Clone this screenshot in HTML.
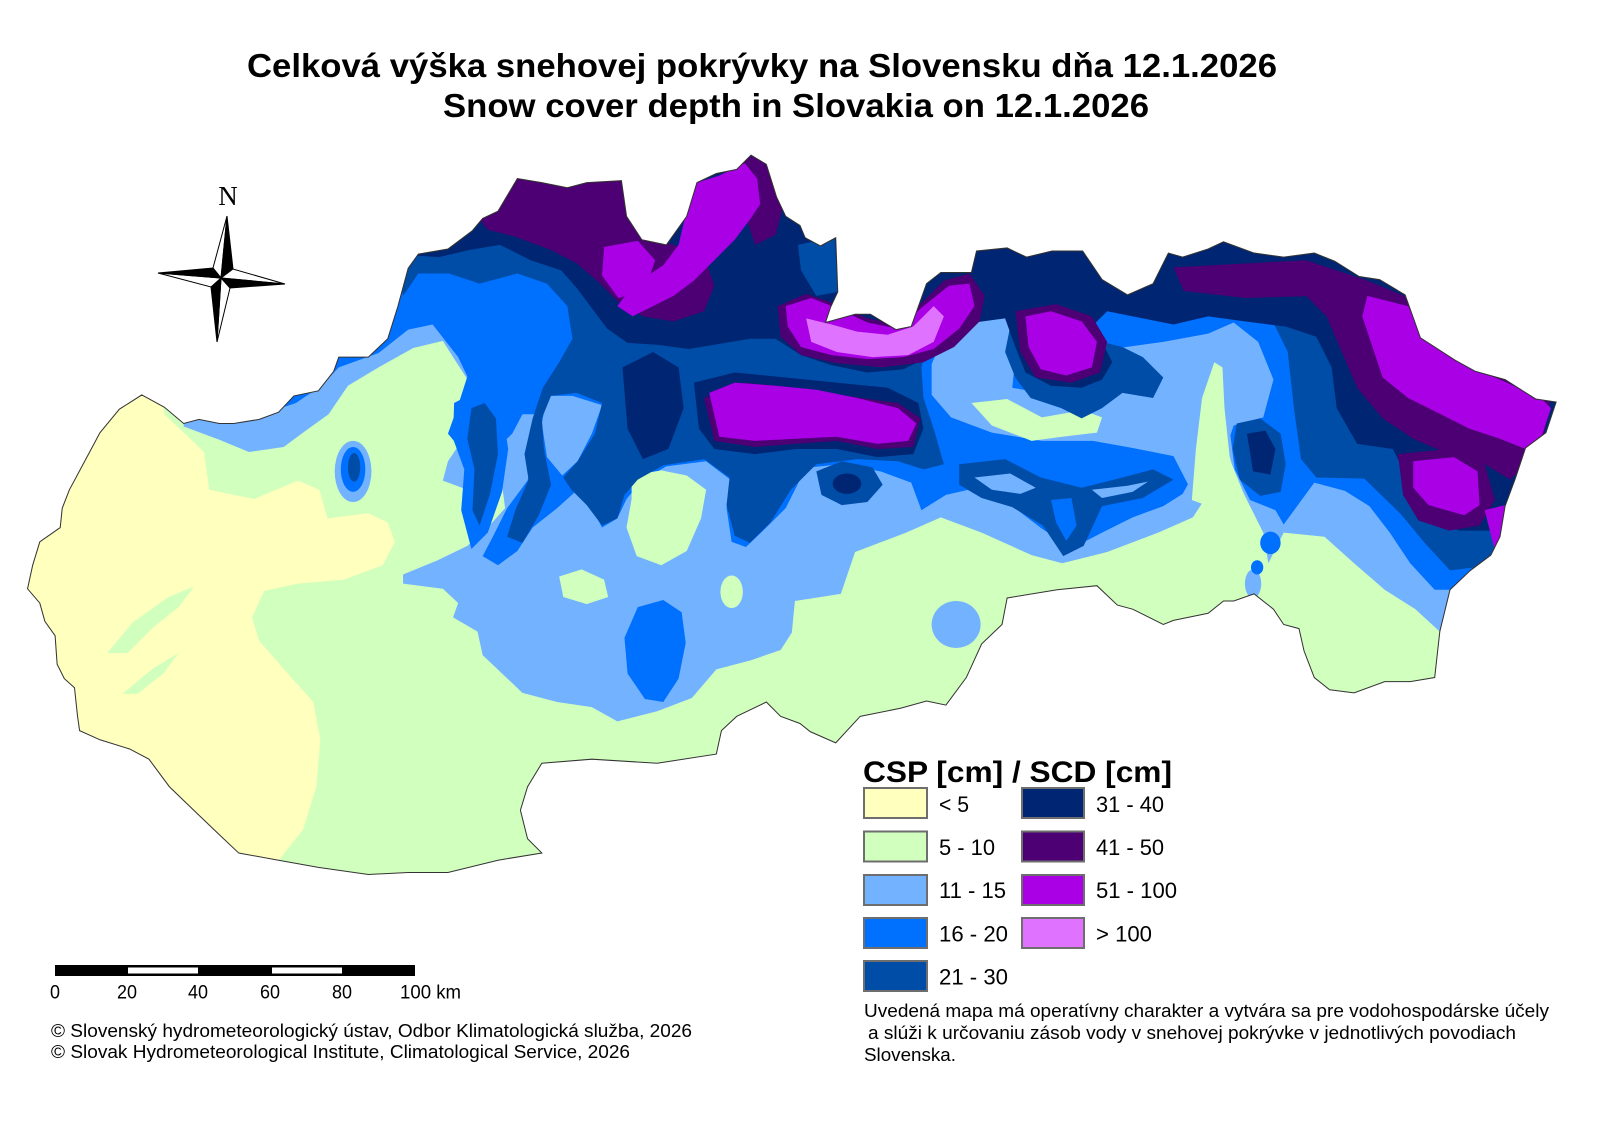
<!DOCTYPE html>
<html>
<head>
<meta charset="utf-8">
<style>
  html,body{margin:0;padding:0;background:#fff;}
  svg{display:block;}
  text{font-family:"Liberation Sans",Arial,sans-serif;fill:#000;}
</style>
</head>
<body>
<svg width="1600" height="1132" viewBox="0 0 1600 1132" xmlns="http://www.w3.org/2000/svg">
  <rect x="0" y="0" width="1600" height="1132" fill="#ffffff"/>

  <!-- Title -->
  <text x="247" y="77" font-size="33" font-weight="bold" textLength="1030" lengthAdjust="spacingAndGlyphs">Celková výška snehovej pokrývky na Slovensku dňa 12.1.2026</text>
  <text x="443" y="117" font-size="33" font-weight="bold" textLength="706" lengthAdjust="spacingAndGlyphs">Snow cover depth in Slovakia on 12.1.2026</text>

  <!-- MAP -->
  <defs>
    <clipPath id="sk" clipPathUnits="userSpaceOnUse">
      <polygon id="outlinePts" points="139,387 161,399 180,415 195,411 215,415 229,415 254,411 273,404 288,388 312,383 327,364 332,350 361,350 380,332 390,300 400,263 410,249 439,244 463,226 473,214 488,207 507,175 531,179 556,184 575,179 609,177 614,212 629,235 653,240 673,212 683,179 702,170 722,166 736,152 751,161 761,193 770,212 784,221 789,233 804,241 819,233 821,286 814,301 809,316 838,308 853,308 878,323 893,320 908,278 922,267 952,267 957,246 987,243 1006,252 1031,246 1061,246 1080,274 1105,289 1130,278 1145,248 1159,252 1184,244 1199,237 1229,248 1258,252 1288,248 1308,256 1332,271 1352,274 1377,289 1392,331 1426,353 1446,364 1475,372 1505,391 1525,394 1515,424 1495,439 1485,469 1475,496 1470,526 1461,544 1441,559 1421,578 1411,619 1406,664 1382,668 1357,668 1327,679 1303,676 1288,664 1278,638 1273,616 1258,612 1248,597 1229,582 1209,589 1199,589 1184,601 1150,608 1140,612 1110,597 1095,593 1075,574 1036,578 987,586 982,612 962,631 947,664 927,691 908,687 883,694 843,702 819,728 794,717 784,709 765,702 751,688 722,702 707,716 702,739 644,748 580,744 531,748 517,771 510,794 517,822 531,836 488,843 439,855 400,855 361,857 312,850 273,843 234,836 215,818 195,799 166,771 146,744 127,734 98,725 78,716 76,702 73,674 63,665 56,651 54,623 44,609 39,591 27,577 32,554 39,531 59,517 61,498 68,480 83,452 98,424 117,401"/>
    </clipPath>
  </defs>

  <g transform="scale(1.020408)">
    <g clip-path="url(#sk)">
      <!-- base 5-10 -->
      <rect x="0" y="0" width="1600" height="1000" fill="#D1FFBE"/>
      <!-- < 5 -->
      <polygon fill="#FFFFBE" points="0,300 150,300 161,406 200,443 205,480 249,489 292,471 313,480 321,508 361,503 380,512 387,531 375,554 337,568 292,572 259,579 247,605 254,628 282,660 307,688 314,725 310,771 297,813 273,843 260,900 0,900"/>
      <!-- light green streaks in yellow -->
      <polygon fill="#D1FFBE" points="105,640 130,610 165,585 190,575 175,595 150,615 125,640"/>
      <polygon fill="#D1FFBE" points="120,680 150,655 175,640 160,660 135,680"/>

      <!-- 11-15 -->
      <polygon fill="#73B2FF" points="180,100 180,380 180,418 215,431 244,443 278,438 297,424 322,406 341,378 371,360 405,341 434,334 444,350 468,387 458,424 439,452 434,471 458,480 492,475 495,498 478,517 458,535 429,549 395,563 395,572 434,577 449,591 444,605 468,619 473,642 492,660 512,679 546,688 580,693 605,707 644,697 678,684 702,656 736,647 765,637 776,620 779,589 824,582 838,541 888,522 922,507 962,522 1011,544 1041,552 1085,541 1135,522 1169,507 1184,484 1179,447 1174,409 1179,379 1194,357 1199,391 1204,447 1219,484 1238,522 1243,552 1258,522 1298,526 1327,552 1357,578 1387,597 1411,619 1600,619 1600,100"/>
      <ellipse fill="#73B2FF" cx="346" cy="462" rx="18" ry="30"/>
      <ellipse fill="#73B2FF" cx="937" cy="612" rx="24" ry="23"/>
      <ellipse fill="#73B2FF" cx="1228" cy="572" rx="8" ry="14"/>

      <!-- 16-20 -->
      <polygon fill="#0070FF" points="320,100 320,340 332,360 371,346 400,323 424,318 449,350 458,369 449,397 439,425 458,448 483,443 502,425 512,406 531,406 517,471 497,498 483,526 473,545 488,554 507,540 522,517 546,498 566,480 580,498 590,517 605,508 614,489 629,471 653,457 692,452 717,471 712,498 717,531 731,536 751,517 770,498 784,470 794,458 824,455 863,462 893,473 903,500 927,485 962,477 987,492 1021,518 1051,537 1080,522 1110,507 1140,496 1159,484 1169,466 1172,430 1205,420 1210,460 1225,490 1250,500 1258,514 1288,473 1318,481 1342,496 1362,522 1382,552 1406,578 1600,578 1600,100"/>
      <polygon fill="#0070FF" points="230,340 332,340 332,360 315,378 290,395 260,405 230,400"/>
      <polygon fill="#0070FF" points="625,595 650,588 668,600 672,630 665,665 650,688 632,685 615,660 612,625"/>
      <ellipse fill="#0070FF" cx="346" cy="460" rx="12" ry="22"/>
      <polygon fill="#0070FF" points="445,395 470,382 492,400 498,440 492,482 478,522 462,538 452,500 455,460 444,430"/>
      <ellipse fill="#0070FF" cx="1245" cy="532" rx="10" ry="11"/>
      <ellipse fill="#0070FF" cx="1232" cy="556" rx="6" ry="7"/>

      <!-- light blue holes -->
      <polygon fill="#73B2FF" points="536,388 561,388 590,397 580,425 566,452 551,466 536,448 531,415"/>
      <polygon fill="#73B2FF" points="913,357 927,323 972,308 1001,308 996,342 992,380 1031,387 1071,365 1090,342 1140,335 1184,327 1209,316 1233,335 1248,372 1238,409 1209,417 1199,447 1189,477 1169,484 1150,447 1110,439 1071,432 1021,432 972,424 932,409 913,387"/>

      <!-- green holes -->
      <polygon fill="#D1FFBE" points="619,466 648,461 673,466 692,480 687,508 673,540 648,554 624,545 614,517 619,489"/>
      <polygon fill="#D1FFBE" points="952,395 987,391 1021,409 1061,402 1080,409 1075,424 1041,428 1011,432 972,417"/>
      <polygon fill="#D1FFBE" points="1168,490 1172,440 1178,390 1190,355 1198,360 1200,400 1205,447 1215,486 1195,500"/>
      <ellipse fill="#D1FFBE" cx="717" cy="580" rx="11" ry="16"/>
      <polygon fill="#D1FFBE" points="548,565 570,558 592,568 596,585 575,592 552,585"/>

      <!-- 21-30 -->
      <polygon fill="#004DA8" points="385,100 385,230 395,290 410,268 440,268 470,278 507,268 536,278 556,300 561,332 548,355 532,380 522,410 514,445 518,470 505,500 497,526 512,532 528,505 540,475 533,440 531,410 540,388 565,385 590,395 583,425 566,452 552,468 560,480 575,495 590,515 605,508 612,485 625,470 650,456 690,450 715,468 712,495 720,525 735,532 755,512 775,480 800,455 840,450 880,452 905,460 925,455 915,420 905,390 903,360 910,330 925,312 955,302 985,297 990,320 985,345 995,370 1010,390 1040,400 1060,410 1080,400 1100,385 1130,390 1140,370 1120,350 1100,340 1080,335 1065,320 1080,305 1120,300 1160,300 1185,305 1215,300 1245,310 1262,345 1268,400 1275,450 1290,468 1337,469 1372,503 1397,533 1421,559 1446,556 1600,556 1600,100"/>
      <polygon fill="#004DA8" points="1212,415 1235,410 1255,425 1260,455 1255,482 1235,486 1215,470 1208,440"/>
      <polygon fill="#004DA8" points="800,462 825,452 855,458 865,475 850,492 825,495 805,485"/>
      <polygon fill="#004DA8" points="940,455 985,450 1020,468 1060,478 1100,468 1130,460 1150,470 1120,488 1080,496 1062,535 1042,545 1022,515 992,497 962,488 940,475"/>
      <!-- light streaks through ore mountains -->
      <polygon fill="#73B2FF" points="955,468 990,464 1015,478 1000,484 972,480"/>
      <polygon fill="#73B2FF" points="1070,480 1105,476 1125,472 1110,482 1080,488"/>
      <polygon fill="#0070FF" points="1030,490 1050,488 1055,515 1045,530 1035,512"/>
      <polygon fill="#004DA8" points="462,400 475,395 486,410 488,445 480,485 470,515 463,500 465,460 458,430"/>
      <ellipse fill="#004DA8" cx="347" cy="458" rx="6" ry="14"/>

      <!-- 31-40 -->
      <polygon fill="#002673" points="400,100 400,250 430,252 460,245 490,240 520,255 550,265 565,282 580,302 595,322 615,336 645,338 675,342 705,337 735,332 760,332 785,348 815,358 850,365 885,362 910,350 930,332 955,316 985,312 995,340 1005,365 1030,378 1060,380 1080,372 1090,355 1080,335 1070,320 1085,305 1110,310 1150,318 1184,310 1220,315 1260,320 1290,330 1305,360 1310,400 1330,435 1365,440 1380,470 1395,505 1430,520 1465,520 1600,520 1600,100"/>
      <polygon fill="#004DA8" points="782,240 818,232 821,286 800,290 785,265"/>
      <polygon fill="#002673" points="680,375 720,365 770,370 820,375 870,380 900,395 905,420 895,445 860,448 820,440 780,440 740,445 700,440 685,420"/>
      <polygon fill="#002673" points="610,360 640,345 665,360 670,400 655,440 630,450 615,420"/>
      <polygon fill="#002673" points="1222,425 1240,422 1250,440 1245,465 1228,462"/>
      <ellipse fill="#002673" cx="830" cy="474" rx="14" ry="10"/>

      <!-- 41-50 -->
      <polygon fill="#4C0073" points="470,215 500,175 620,175 630,230 660,240 690,250 700,280 690,305 660,315 630,310 605,295 585,275 565,258 540,245 505,232 478,225"/>
      <polygon fill="#4C0073" points="725,160 745,148 760,165 768,200 760,230 740,240 730,210"/>
      <polygon fill="#4C0073" points="690,390 730,375 780,380 830,388 880,395 902,410 895,438 860,440 820,432 780,435 740,438 700,432"/>
      <polygon fill="#4C0073" points="762,300 790,288 820,298 850,312 880,318 905,295 925,275 950,268 965,290 960,315 935,340 905,355 865,360 820,356 785,348 765,330"/>
      <polygon fill="#4C0073" points="995,305 1035,298 1070,310 1085,335 1078,365 1050,375 1015,370 1000,345"/>
      <polygon fill="#4C0073" points="1280,255 1340,275 1400,300 1450,350 1520,390 1510,440 1480,470 1455,455 1420,445 1385,430 1355,410 1330,380 1315,345 1300,310 1280,290"/>
      <polygon fill="#4C0073" points="1150,262 1280,255 1290,290 1220,292 1160,285"/>
      <polygon fill="#4C0073" points="1370,445 1420,440 1455,455 1465,490 1450,515 1420,520 1390,510 1375,485"/>

      <!-- 51-100 -->
      <polygon fill="#A900E6" points="672,210 680,180 705,172 730,160 742,175 745,200 735,215 720,235 700,255 680,275 660,290 640,300 620,310 605,300 620,280 650,260 665,240"/>
      <polygon fill="#A900E6" points="592,242 625,236 642,255 632,285 606,292 590,270"/>
      <polygon fill="#A900E6" points="695,385 720,375 760,378 800,382 840,390 880,400 898,415 890,432 860,435 820,428 780,430 740,432 705,428"/>
      <polygon fill="#A900E6" points="770,300 795,292 820,302 850,316 880,322 905,300 930,280 950,278 955,300 940,322 915,342 885,350 850,352 815,348 785,340 772,320"/>
      <polygon fill="#A900E6" points="1005,310 1030,305 1060,315 1075,335 1070,360 1045,368 1020,362 1008,340"/>
      <polygon fill="#A900E6" points="1340,290 1380,300 1395,330 1430,355 1470,372 1510,390 1520,400 1510,430 1495,440 1470,430 1440,420 1410,405 1380,390 1355,370 1345,340 1335,310"/>
      <polygon fill="#A900E6" points="1385,452 1425,448 1448,462 1450,495 1435,505 1400,495 1385,478"/>
      <polygon fill="#A900E6" points="1455,500 1475,495 1480,530 1465,540"/>

      <!-- > 100 -->
      <polygon fill="#DF73FF" points="790,312 815,318 840,325 870,328 895,320 915,300 925,310 915,335 890,348 855,350 820,345 795,335"/>
    </g>
    <use href="#outlinePts" fill="none" stroke="#333333" stroke-width="1"/>
  </g>

  <!-- North arrow -->
  <text x="228" y="205" font-size="27" text-anchor="middle" style="font-family:'Liberation Serif','Times New Roman',serif;">N</text>
  <g stroke="#000" stroke-width="1" stroke-linejoin="miter">
    <polygon points="227,216 213,268 221,278" fill="#fff"/>
    <polygon points="227,216 233,269 221,278" fill="#000"/>
    <polygon points="285,284 233,269 221,278" fill="#fff"/>
    <polygon points="285,284 230,288 221,278" fill="#000"/>
    <polygon points="217,342 230,288 221,278" fill="#fff"/>
    <polygon points="217,342 211,287 221,278" fill="#000"/>
    <polygon points="158,273 211,287 221,278" fill="#fff"/>
    <polygon points="158,273 213,268 221,278" fill="#000"/>
  </g>

  <!-- Legend -->
  <text x="863" y="782" font-size="30" font-weight="bold" textLength="309" lengthAdjust="spacingAndGlyphs">CSP [cm] / SCD [cm]</text>
  <g stroke="#6E6E6E" stroke-width="2">
    <rect x="864" y="788" width="63" height="30" fill="#FFFFBE"/>
    <rect x="864" y="831.5" width="63" height="30" fill="#D1FFBE"/>
    <rect x="864" y="875" width="63" height="30" fill="#73B2FF"/>
    <rect x="864" y="918" width="63" height="30" fill="#0070FF"/>
    <rect x="864" y="961" width="63" height="30" fill="#004DA8"/>
    <rect x="1022" y="788" width="62" height="30" fill="#002673"/>
    <rect x="1022" y="831.5" width="62" height="30" fill="#4C0073"/>
    <rect x="1022" y="875" width="62" height="30" fill="#A900E6"/>
    <rect x="1022" y="918" width="62" height="30" fill="#DF73FF"/>
  </g>
  <g font-size="22">
    <text x="939" y="812" textLength="30" lengthAdjust="spacingAndGlyphs">&lt; 5</text>
    <text x="939" y="855" textLength="56" lengthAdjust="spacingAndGlyphs">5 - 10</text>
    <text x="939" y="898" textLength="67" lengthAdjust="spacingAndGlyphs">11 - 15</text>
    <text x="939" y="941.5" textLength="69" lengthAdjust="spacingAndGlyphs">16 - 20</text>
    <text x="939" y="984.5" textLength="69" lengthAdjust="spacingAndGlyphs">21 - 30</text>
    <text x="1096" y="812" textLength="68" lengthAdjust="spacingAndGlyphs">31 - 40</text>
    <text x="1096" y="855" textLength="68" lengthAdjust="spacingAndGlyphs">41 - 50</text>
    <text x="1096" y="898" textLength="81" lengthAdjust="spacingAndGlyphs">51 - 100</text>
    <text x="1096" y="941.5" textLength="56" lengthAdjust="spacingAndGlyphs">&gt; 100</text>
  </g>

  <!-- Scale bar -->
  <rect x="55" y="965" width="360" height="11" fill="#000"/>
  <rect x="128" y="967.5" width="70" height="6" fill="#fff"/>
  <rect x="272" y="967.5" width="70" height="6" fill="#fff"/>
  <g font-size="19">
    <text x="50" y="998.5" textLength="10" lengthAdjust="spacingAndGlyphs">0</text>
    <text x="117" y="998.5" textLength="20" lengthAdjust="spacingAndGlyphs">20</text>
    <text x="188" y="998.5" textLength="20" lengthAdjust="spacingAndGlyphs">40</text>
    <text x="260" y="998.5" textLength="20" lengthAdjust="spacingAndGlyphs">60</text>
    <text x="332" y="998.5" textLength="20" lengthAdjust="spacingAndGlyphs">80</text>
    <text x="400" y="998.5" textLength="61" lengthAdjust="spacingAndGlyphs">100 km</text>
  </g>

  <!-- Copyright -->
  <g font-size="18">
    <text x="51" y="1037" textLength="641" lengthAdjust="spacingAndGlyphs">© Slovenský hydrometeorologický ústav, Odbor Klimatologická služba, 2026</text>
    <text x="51" y="1058" textLength="579" lengthAdjust="spacingAndGlyphs">© Slovak Hydrometeorological Institute, Climatological Service, 2026</text>
  </g>

  <!-- Note -->
  <g font-size="18">
    <text x="864" y="1017" textLength="685" lengthAdjust="spacingAndGlyphs">Uvedená mapa má operatívny charakter a vytvára sa pre vodohospodárske účely</text>
    <text x="868" y="1039" textLength="648" lengthAdjust="spacingAndGlyphs">a slúži k určovaniu zásob vody v snehovej pokrývke v jednotlivých povodiach</text>
    <text x="864" y="1061" textLength="92" lengthAdjust="spacingAndGlyphs">Slovenska.</text>
  </g>
</svg>
</body>
</html>
